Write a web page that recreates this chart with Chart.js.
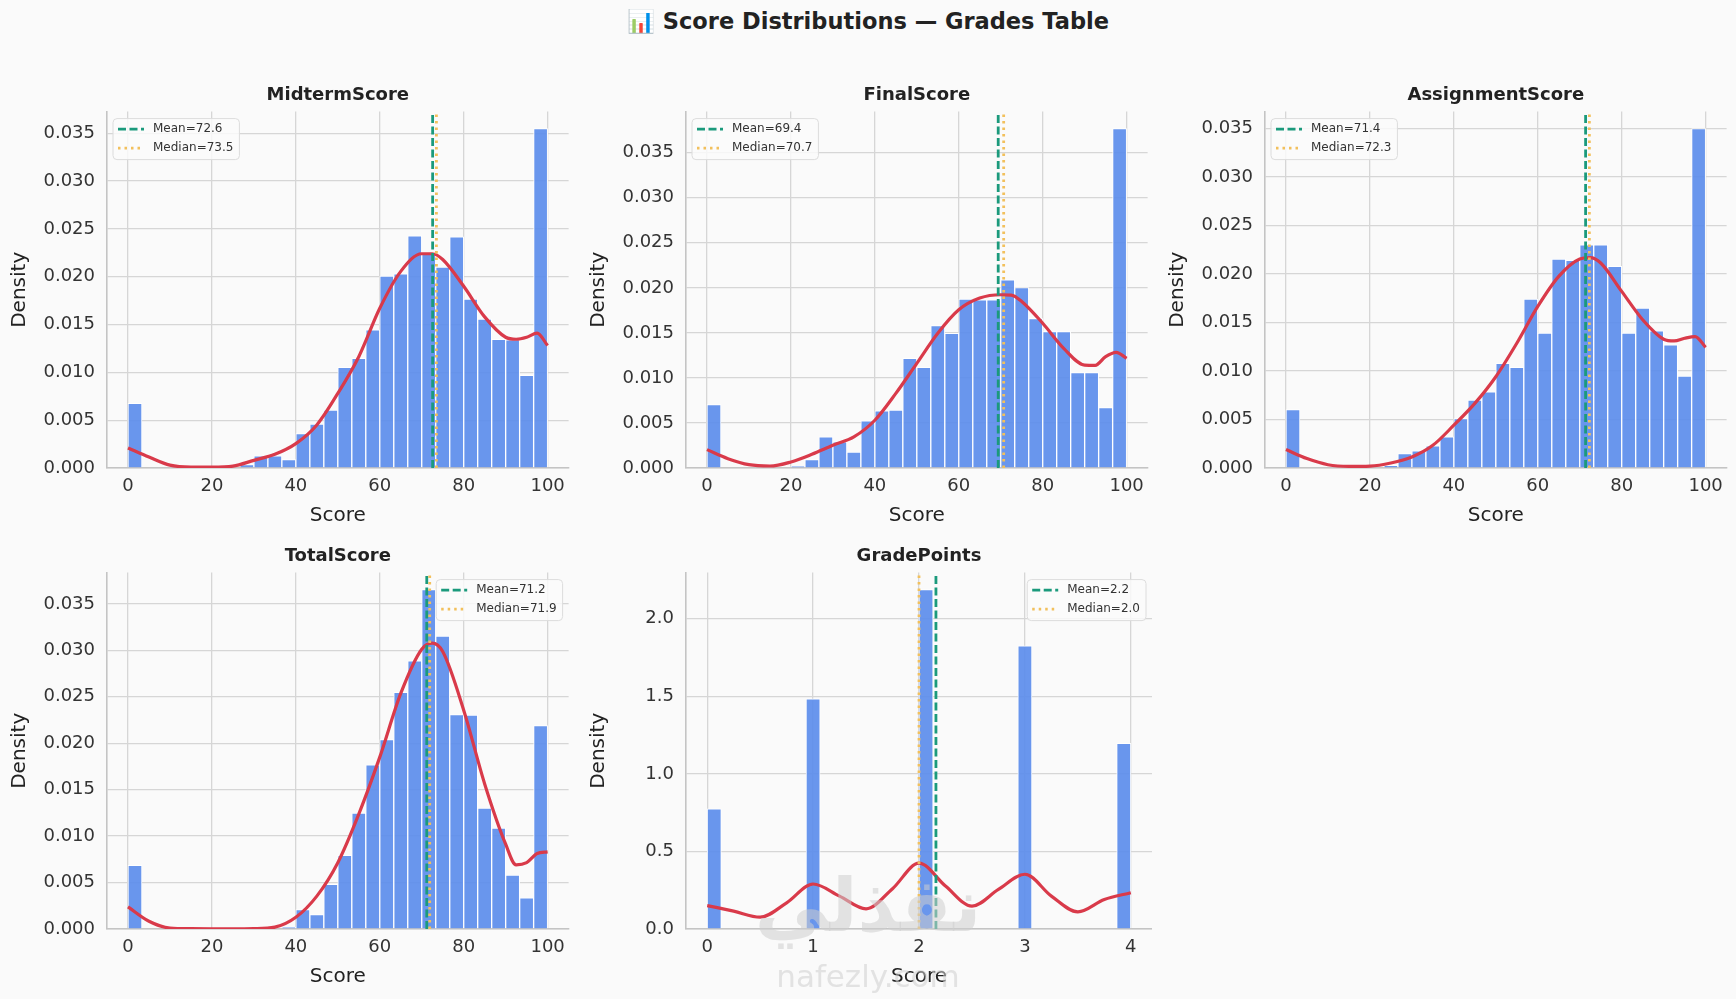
<!DOCTYPE html>
<html>
<head>
<meta charset="utf-8">
<script src="https://cdn.jsdelivr.net/npm/chart.js@4.4.1/dist/chart.umd.min.js"></script>
<style>
  body { margin: 0; background: #fafafa; width: 1736px; height: 999px; overflow: hidden; position: relative; font-family: 'DejaVu Sans', sans-serif; }
  canvas { position: absolute; }
  #title { position: absolute; left: 0; top: 8px; width: 1736px; text-align: center; font-weight: bold; font-size: 22.5px; color: #222; }
  .wm { position: absolute; left: 0; width: 1736px; text-align: center; color: rgba(205,205,205,0.55); pointer-events: none; }
</style>
</head>
<body>
<div id="title">📊 Score Distributions — Grades Table</div>
<canvas id="c0" width="566" height="453" style="left:7px;top:77px"></canvas>
<canvas id="c1" width="566" height="453" style="left:586px;top:77px"></canvas>
<canvas id="c2" width="566" height="453" style="left:1165px;top:77px"></canvas>
<canvas id="c3" width="566" height="453" style="left:7px;top:538px"></canvas>
<canvas id="c4" width="566" height="453" style="left:586px;top:538px"></canvas>
<div class="wm" style="top:862px;font-size:74px;font-weight:bold;">نفذلي</div>
<div class="wm" style="top:958px;font-size:31px;">nafezly.com</div>
<script>
// histogram bins: 30 bins each, density values
var midtermBins = [0.00675, 0, 0, 0, 0, 0, 0, 0, 0.00035, 0.00126, 0.00126, 0.00087, 0.0036, 0.00458, 0.00605,
  0.01052, 0.01147, 0.01444, 0.02007, 0.0203, 0.02427, 0.02248, 0.02101, 0.02416, 0.01766, 0.01556, 0.01346, 0.01339, 0.00969, 0.03549];
var finalBins = [0.00705, 0, 0, 0, 0, 0, 0.0002, 0.00093, 0.00345, 0.0029, 0.00178, 0.00523, 0.00635, 0.00642, 0.01218,
  0.01117, 0.01581, 0.01496, 0.01875, 0.01867, 0.01867, 0.0209, 0.02004, 0.01659, 0.01514, 0.01514, 0.01058, 0.01058, 0.00672, 0.03768];
var assignmentBins = [0.00603, 0, 0, 0, 0, 0, 0, 0.00028, 0.00148, 0.00176, 0.00228, 0.00321, 0.0051, 0.007, 0.00786,
  0.01079, 0.01038, 0.01741, 0.0139, 0.02155, 0.02141, 0.023, 0.023, 0.02079, 0.0139, 0.01648, 0.01414, 0.01269, 0.00948, 0.035];
var totalBins = [0.00685, 0, 0, 0, 0, 0, 0, 0, 0, 0, 0, 0.0002, 0.00209, 0.00155, 0.0048,
  0.00794, 0.01248, 0.01768, 0.02038, 0.02547, 0.02886, 0.03654, 0.03153, 0.02309, 0.02302, 0.01302, 0.01086, 0.00581, 0.00336, 0.0219];
var gradeBins = [0.775, 0, 0, 0, 0, 0, 0, 1.483, 0, 0, 0, 0, 0, 0, 0,
  2.188, 0, 0, 0, 0, 0, 0, 1.825, 0, 0, 0, 0, 0, 0, 1.197];

var scoreRange = [0, 100];
var gradeRange = [0, 4];

// KDE curves
var scoreKdeX = [0, 5, 10, 15, 20, 25, 30, 35, 40, 45, 50, 55, 60, 65, 70, 72.5, 75, 80, 85, 90, 92.5, 95, 97.5, 100];
var midtermKde = [0.0021, 0.00115, 0.0003, 0.0001, 0.0001, 0.0002, 0.0008, 0.00143, 0.00255, 0.0045, 0.0078, 0.01164,
  0.0167, 0.02056, 0.0224, 0.0224, 0.0218, 0.019, 0.0158, 0.01367, 0.01346, 0.01367, 0.0141, 0.0128];
var finalKde = [0.00204, 0.00104, 0.00037, 0.00022, 0.00067, 0.00152, 0.00252, 0.00345, 0.0053, 0.00828, 0.01162, 0.01496,
  0.01756, 0.01886, 0.01923, 0.0192, 0.01849, 0.01607, 0.01329, 0.01143, 0.0114, 0.01236, 0.01284, 0.01218];
var assignmentKde = [0.0019, 0.00097, 0.00034, 0.00017, 0.0002, 0.00052, 0.00114, 0.00234, 0.00441, 0.00666, 0.00941, 0.01286,
  0.01666, 0.01976, 0.02155, 0.0217, 0.02114, 0.01821, 0.01528, 0.01328, 0.0131, 0.01338, 0.01355, 0.01245];
var totalKde = [0.00238, 0.00083, 0.0001, 0.00003, 0.00002, 0.00002, 0.00004, 0.0002, 0.00126, 0.00354, 0.00714, 0.01237,
  0.0185, 0.02536, 0.03012, 0.03077, 0.02987, 0.02356, 0.01562, 0.00913, 0.0069, 0.00714, 0.00812, 0.0083];
var gradeKdeX = [0, 0.25, 0.5, 0.75, 1, 1.25, 1.5, 1.75, 2, 2.25, 2.5, 2.75, 3, 3.25, 3.5, 3.75, 4];
var gradeKde = [0.151, 0.115, 0.076, 0.169, 0.29, 0.212, 0.13, 0.26, 0.424, 0.277, 0.147, 0.255, 0.353, 0.212, 0.11, 0.19, 0.234];

// mean / median
var means = [72.6, 69.4, 71.4, 71.2, 2.16];
var medians = [73.5, 70.7, 72.3, 71.9, 2.0];

var panelTitles = ['MidtermScore', 'FinalScore', 'AssignmentScore', 'TotalScore', 'GradePoints'];
var scoreTicks = [0, 20, 40, 60, 80, 100];
var gradeTicks = [0, 1, 2, 3, 4];
var scoreDensityTicks = [0, 0.005, 0.01, 0.015, 0.02, 0.025, 0.03, 0.035];
var gradeDensityTicks = [0, 0.5, 1, 1.5, 2];

var FONT = 'DejaVu Sans';
var BAR = 'rgba(92,141,235,0.92)';
var KDE = '#d93a4a';
var MEAN = '#1b9a7c';
var MEDIAN = '#f2c05c';
var GRID = '#d6d6d6';
var MEAN_DASH = [8, 3.5];
var MEDIAN_DASH = [2.5, 4];

var innerLegend = {
  id: 'innerLegend',
  afterDatasetsDraw: function (chart, args, opts) {
    var ctx = chart.ctx, a = chart.chartArea;
    ctx.save();
    ctx.font = '12px ' + FONT;
    var tw = Math.max.apply(null, opts.items.map(function (t) { return ctx.measureText(t.text).width; }));
    var w = 40 + tw + 6, h = 41;
    var x = opts.side === 'right' ? a.right - 6 - w : a.left + 6;
    var y = a.top + 7;
    ctx.beginPath();
    ctx.roundRect(x, y, w, h, 4);
    ctx.fillStyle = 'rgba(250,250,250,0.85)';
    ctx.fill();
    ctx.strokeStyle = '#dcdcdc';
    ctx.lineWidth = 1;
    ctx.stroke();
    opts.items.forEach(function (it, i) {
      var cy = y + 10.5 + i * 19;
      ctx.beginPath();
      ctx.setLineDash(it.dash);
      ctx.strokeStyle = it.color;
      ctx.lineWidth = 2.8;
      ctx.moveTo(x + 5, cy);
      ctx.lineTo(x + 31, cy);
      ctx.stroke();
      ctx.setLineDash([]);
      ctx.fillStyle = '#333';
      ctx.textBaseline = 'middle';
      ctx.textAlign = 'left';
      ctx.fillText(it.text, x + 40, cy);
    });
    ctx.restore();
  }
};

function makePanel(id, idx, bins, range, kdeX, kdeY, xTicks, yTicks, dec, side) {
  var bw = (range[1] - range[0]) / bins.length;
  var pad = (range[1] - range[0]) * 0.05;
  var yMax = Math.max.apply(null, bins) * 1.05;
  var mean = means[idx], median = medians[idx];

  new Chart(document.getElementById(id), {
    type: 'bar',
    data: {
      datasets: [
        {
          type: 'line',
          data: [{ x: median, y: 0 }, { x: median, y: yMax }],
          borderColor: MEDIAN, borderWidth: 2.8, borderDash: MEDIAN_DASH,
          pointRadius: 0, fill: false, order: 0
        },
        {
          type: 'line',
          data: [{ x: mean, y: 0 }, { x: mean, y: yMax }],
          borderColor: MEAN, borderWidth: 2.8, borderDash: MEAN_DASH,
          pointRadius: 0, fill: false, order: 1
        },
        {
          type: 'line',
          data: kdeX.map(function (x, i) { return { x: x, y: kdeY[i] }; }),
          borderColor: KDE, borderWidth: 3.2, cubicInterpolationMode: 'monotone',
          pointRadius: 0, fill: false, order: 2
        },
        {
          type: 'bar',
          data: bins.map(function (h, i) { return { x: range[0] + (i + 0.5) * bw, y: h }; }),
          backgroundColor: BAR, borderColor: 'rgba(255,255,255,0.95)', borderWidth: 1,
          categoryPercentage: 1, barPercentage: 1, order: 3
        }
      ]
    },
    options: {
      responsive: false,
      animation: false,
      events: [],
      layout: { padding: 0 },
      plugins: {
        legend: { display: false },
        tooltip: { enabled: false },
        title: {
          display: true, fullSize: false, text: panelTitles[idx], color: '#222',
          font: { family: FONT, size: 18, weight: 'bold' },
          padding: { top: 8, bottom: 5 }
        },
        innerLegend: {
          side: side,
          items: [
            { text: 'Mean=' + mean.toFixed(1), color: MEAN, dash: MEAN_DASH },
            { text: 'Median=' + median.toFixed(1), color: MEDIAN, dash: MEDIAN_DASH }
          ]
        }
      },
      scales: {
        x: {
          type: 'linear', min: range[0] - pad, max: range[1] + pad, offset: false,
          afterBuildTicks: function (s) { s.ticks = xTicks.map(function (v) { return { value: v }; }); },
          afterFit: function (s) { s.height = 62; },
          grid: { color: GRID, lineWidth: 1.3, drawTicks: false, offset: false },
          border: { color: '#c4c4c4', width: 1.6 },
          ticks: { color: '#333', padding: 8, font: { family: FONT, size: 18 }, callback: function (v) { return String(v); } },
          title: { display: true, text: 'Score', color: '#222', font: { family: FONT, size: 20 }, padding: { top: 0, bottom: 2 } }
        },
        y: {
          min: 0, max: yMax,
          afterBuildTicks: function (s) { s.ticks = yTicks.map(function (v) { return { value: v }; }); },
          afterFit: function (s) { s.width = 100; },
          grid: { color: GRID, lineWidth: 1.3, drawTicks: false },
          border: { color: '#c4c4c4', width: 1.6 },
          ticks: { color: '#333', padding: 12, font: { family: FONT, size: 18 }, callback: function (v) { return v.toFixed(dec); } },
          title: { display: true, text: 'Density', color: '#222', font: { family: FONT, size: 20 }, padding: { top: 1, bottom: 0 } }
        }
      }
    },
    plugins: [innerLegend]
  });
}

makePanel('c0', 0, midtermBins, scoreRange, scoreKdeX, midtermKde, scoreTicks, scoreDensityTicks, 3, 'left');
makePanel('c1', 1, finalBins, scoreRange, scoreKdeX, finalKde, scoreTicks, scoreDensityTicks, 3, 'left');
makePanel('c2', 2, assignmentBins, scoreRange, scoreKdeX, assignmentKde, scoreTicks, scoreDensityTicks, 3, 'left');
makePanel('c3', 3, totalBins, scoreRange, scoreKdeX, totalKde, scoreTicks, scoreDensityTicks, 3, 'right');
makePanel('c4', 4, gradeBins, gradeRange, gradeKdeX, gradeKde, gradeTicks, gradeDensityTicks, 1, 'right');
</script>
</body>
</html>
